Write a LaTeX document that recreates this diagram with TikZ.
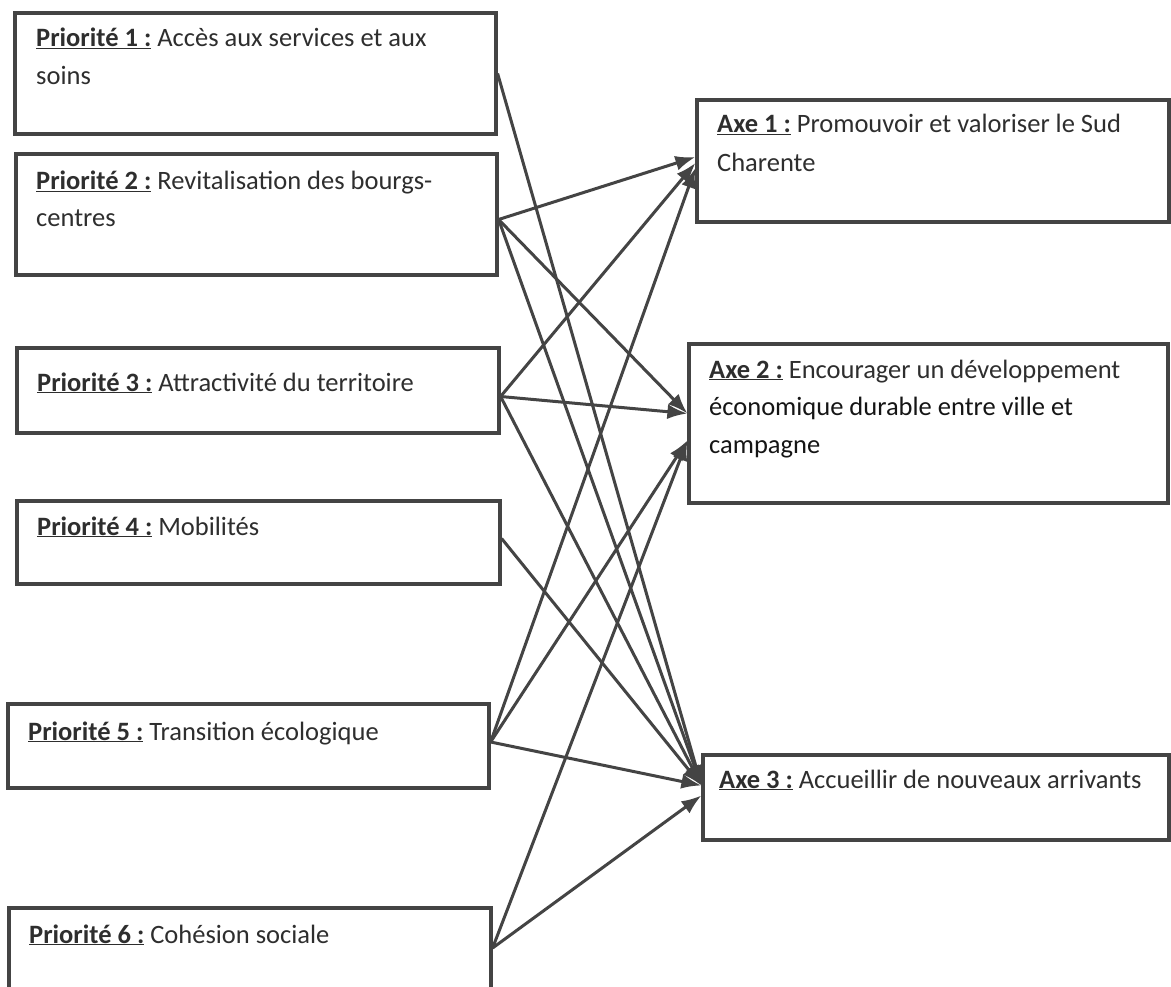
\documentclass[tikz,border=0pt]{standalone}
\usepackage{fontspec}
\setmainfont{Carlito}
\usetikzlibrary{arrows.meta,calc}
\definecolor{ink}{HTML}{444444}
\definecolor{txt}{HTML}{2E2E2E}
\definecolor{txtdark}{HTML}{151515}
\begin{document}
\begin{tikzpicture}[x=1pt,y=-1pt,
  box/.style={draw=ink, line width=3.2pt, inner sep=0pt, rectangle},
  lbl/.style={anchor=base west, inner sep=0pt, text=txt, font=\fontsize{26.5}{30}\selectfont},
  link/.style={draw=ink, line width=3pt, -{Latex[length=20pt,width=15pt]}}]
\useasboundingbox[fill=white] (0,0) rectangle (1171,987);
% left boxes
\node[box, minimum width=481pt, minimum height=121pt] (p1) at (255.5,73.5) {};
\node[box, minimum width=481pt, minimum height=121pt] (p2) at (256.5,214.5) {};
\node[box, minimum width=482pt, minimum height=85pt] (p3) at (258,390.5) {};
\node[box, minimum width=483pt, minimum height=83pt] (p4) at (258.5,542.5) {};
\node[box, minimum width=481pt, minimum height=84pt] (p5) at (248.5,746) {};
\node[box, minimum width=482pt, minimum height=92pt] (p6) at (250,954) {};
% right boxes
\node[box, minimum width=472pt, minimum height=122pt] (a1) at (933,161) {};
\node[box, minimum width=479pt, minimum height=159pt] (a2) at (928.5,423.5) {};
\node[box, minimum width=466pt, minimum height=85pt] (a3) at (936,797.5) {};
% texts
\node[lbl] (t1a) at (36,47) {\underline{\textbf{Priorité 1 :}} Accès aux services et aux};
\node[lbl] (t1b) at (36,85) {soins};
\node[lbl] (t2a) at (36,190) {\underline{\textbf{Priorité 2 :}} Revitalisation des bourgs-};
\node[lbl] (t2b) at (36,227) {centres};
\node[lbl] (t3a) at (37,391) {\underline{\textbf{Priorité 3 :}} Attractivité du territoire};
\node[lbl] (t4a) at (37,535) {\underline{\textbf{Priorité 4 :}} Mobilités};
\node[lbl] (t5a) at (28,740) {\underline{\textbf{Priorité 5 :}} Transition écologique};
\node[lbl] (t6a) at (29,943) {\underline{\textbf{Priorité 6 :}} Cohésion sociale};
\node[lbl] (u1a) at (717,133) {\underline{\textbf{Axe 1 :}} Promouvoir et valoriser le Sud};
\node[lbl] (u1b) at (717,172) {Charente};
\node[lbl] (u2a) at (709,378) {\underline{\textbf{Axe 2 :}} Encourager un développement};
\node[lbl, text=txtdark] (u2b) at (709,415) {économique durable entre ville et};
\node[lbl, text=txtdark] (u2c) at (709,453) {campagne};
\node[lbl] (u3a) at (719,788) {\underline{\textbf{Axe 3 :}} Accueillir de nouveaux arrivants};
% connectors
\draw[link] (p1.east) -- ($(a3.west)+(0,-12)$);
\draw[link] ($(p2.east)+(0,5)$) -- ($(a1.west)+(0,-4)$);
\draw[link] ($(p2.east)+(0,5)$) -- ($(a2.west)+(0,-10)$);
\draw[link] ($(p2.east)+(0,5)$) -- ($(a3.west)+(0,-12)$);
\draw[link] ($(p3.east)+(0,6)$) -- ($(a1.west)+(0,2)$);
\draw[link] ($(p3.east)+(0,6)$) -- ($(a2.west)+(0,-10)$);
\draw[link] ($(p3.east)+(0,6)$) -- ($(a3.west)+(0,-12)$);
\draw[link] ($(p4.east)+(0,-4)$) -- ($(a3.west)+(0,-12)$);
\draw[link] ($(p5.east)+(0,-4)$) -- ($(a1.west)+(0,7)$);
\draw[link] ($(p5.east)+(0,-4)$) -- ($(a2.west)+(0,17)$);
\draw[link] ($(p5.east)+(0,-4)$) -- ($(a3.west)+(0,-12)$);
\draw[link] ($(p6.east)+(0,-6)$) -- ($(a2.west)+(0,17)$);
\draw[link] ($(p6.east)+(0,-6)$) -- ($(a3.west)+(0,-2)$);
\end{tikzpicture}
\end{document}
